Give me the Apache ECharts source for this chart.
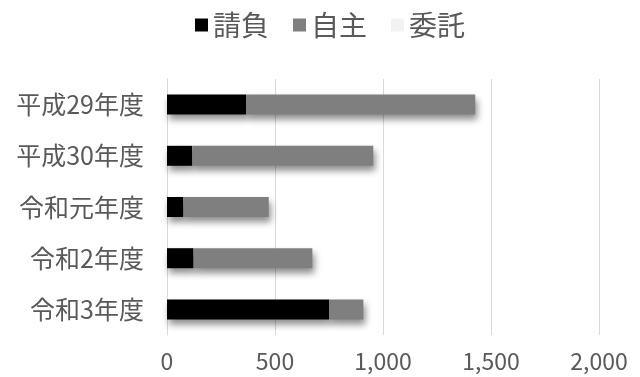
<!DOCTYPE html>
<html>
<head>
<meta charset="utf-8">
<script src="https://cdn.jsdelivr.net/npm/echarts@6/dist/echarts.min.js"></script>
<style>
  html, body { margin: 0; padding: 0; background: #fff; }
  #chart { width: 640px; height: 377px; }
</style>
</head>
<body>
<div id="chart"></div>
<script>
// 年度
var years = ["平成29年度", "平成30年度", "令和元年度", "令和2年度", "令和3年度"];
// 系列
var ukeoi = [366, 117, 76, 123, 750];
var jishu = [1061, 838, 395, 550, 159];
var itaku = [0, 0, 0, 0, 0];
var xTicks = [0, 500, 1000, 1500, 2000];

var font = "'Noto Sans CJK JP', 'Noto Sans', sans-serif";
var textColor = "#595959";

var myChart = echarts.init(document.getElementById("chart"));

var shadow = {
  shadowBlur: 7,
  shadowOffsetX: 2,
  shadowOffsetY: 5,
  shadowColor: "rgba(0, 0, 0, 0.45)",
};

function makeSeries(name, data, color) {
  return {
    name: name,
    type: "bar",
    stack: "total",
    barWidth: 20,
    data: data,
    itemStyle: Object.assign({ color: color }, shadow),
  };
}

var option = {
  animation: false,
  textStyle: { fontFamily: font },
  legend: {
    top: 6,
    left: 190,
    itemWidth: 13,
    itemHeight: 13,
    itemGap: 24,
    icon: "rect",
    textStyle: { fontSize: 28, color: textColor, fontFamily: font },
    data: ["請負", "自主", "委託"],
  },
  grid: {
    left: 167,
    right: 41,
    top: 79,
    bottom: 42,
    containLabel: false,
  },
  xAxis: {
    type: "value",
    min: xTicks[0],
    max: xTicks[xTicks.length - 1],
    interval: 500,
    axisLine: { show: false },
    axisTick: { show: false },
    splitLine: { lineStyle: { color: "#d9d9d9", width: 1 } },
    axisLabel: {
      color: textColor,
      fontSize: 23,
      margin: 15,
      fontFamily: font,
      formatter: function (v) {
        return v.toLocaleString("en-US");
      },
    },
  },
  yAxis: {
    type: "category",
    inverse: true,
    data: years,
    axisLine: { show: true, lineStyle: { color: "#d9d9d9" } },
    axisTick: { show: false },
    axisLabel: {
      color: textColor,
      fontSize: 25,
      margin: 23,
      fontFamily: font,
    },
  },
  series: [
    makeSeries("請負", ukeoi, "#000000"),
    makeSeries("自主", jishu, "#7f7f7f"),
    makeSeries("委託", itaku, "#f2f2f2"),
  ],
};

myChart.setOption(option);
</script>
</body>
</html>
